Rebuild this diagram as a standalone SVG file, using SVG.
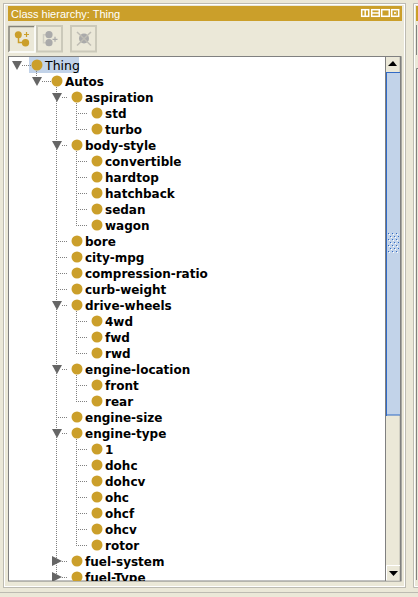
<svg xmlns="http://www.w3.org/2000/svg" width="418" height="597" viewBox="0 0 418 597">
<style>
.l{font:bold 12px "DejaVu Sans",sans-serif;fill:#000}
.i{fill:#cb9f2a}
.a{fill:#666}
.d{fill:none;stroke:#808080;stroke-width:1;stroke-dasharray:1 1}
.b{fill:none;stroke:#bdbbb2}
.w{fill:none;stroke:#fff}
.t{fill:none;stroke:#cbc9ba;stroke-width:2}
</style>
<defs>
<clipPath id="tree"><rect x="9" y="57" width="377" height="524"/></clipPath>
<pattern id="gb" width="4" height="6" patternUnits="userSpaceOnUse" x="388" y="232">
<rect x="0" y="1" width="1" height="1" fill="#316ac5"/><rect x="2" y="4" width="1" height="1" fill="#316ac5"/>
<rect x="1" y="2" width="1" height="1" fill="#fff"/><rect x="3" y="5" width="1" height="1" fill="#fff"/>
</pattern>
</defs>
<rect width="418" height="597" fill="#ebe8d8"/>
<rect class="b" x="3.500" y="3.500" width="402" height="584"/>
<rect class="w" x="4.500" y="4.500" width="400" height="582"/>
<path class="b" d="M418 3.500H413.500V587.500H418M0 592.500H418"/>
<path class="w" d="M418 4.500H414.500V586.500H418"/>
<rect x="8" y="6" width="394" height="15" fill="#cb9f2a"/>
<rect x="416" y="6" width="2" height="15" fill="#cb9f2a"/>
<text x="11" y="18" font-family="Liberation Sans,sans-serif" font-size="11" fill="#fff">Class hierarchy: Thing</text>
<g fill="none" stroke="#fff" stroke-width="1.500">
<rect x="361.700" y="9.700" width="7" height="6.600"/><path d="M365.200 9.700V16.300"/>
<rect x="371.700" y="9.700" width="7.600" height="6.600"/><path d="M371.700 13H379.300"/>
<rect x="381.700" y="9.700" width="7.600" height="6.600"/>
<rect x="391.700" y="9.700" width="7" height="6.600"/>
</g>
<rect x="384" y="12" width="3" height="2" fill="#cb9f2a"/>
<path d="M394 12L396.500 14M396.500 12L394 14" stroke="#fff"/>
<g id="toolbar">
<path d="M9 52V26.500H35" stroke="#85837a" stroke-width="1.500" fill="none"/>
<path d="M35 26V52H9" stroke="#fff" stroke-width="1.500" fill="none"/>
<rect x="37" y="26" width="25" height="25.500" class="t"/>
<rect x="71" y="26" width="25" height="25.500" class="t"/>
<path d="M18.500 35V42.500H25" stroke="#cb9f2a" stroke-width="1.500" fill="none"/>
<circle class="i" cx="18.300" cy="34.700" r="3.500"/><circle class="i" cx="25.500" cy="42.700" r="3.700"/>
<path d="M24 34.500H29M26.500 32V37" stroke="#cb9f2a" stroke-width="1.200"/>
<path d="M49 34.700H43.500V42.700H49" stroke="#cfcdc2" stroke-width="1.500" fill="none"/>
<circle cx="49" cy="34.700" r="3.600" fill="#aaa"/><circle cx="49" cy="42.700" r="3.600" fill="#aaa"/>
<path d="M52.500 39.300H57.500M55 36.800V41.800" stroke="#aaa" stroke-width="1.200"/>
<circle cx="84" cy="38.500" r="5" fill="#aaa"/>
<path d="M77 32L91 45.500M91 32L77 45.500" stroke="#bfbdb4" stroke-width="1.500"/>
</g>
<rect x="8.500" y="56.500" width="392.500" height="524.500" fill="#fff" stroke="#808080"/>
<g id="scrollbar">
<rect x="386" y="57" width="14.500" height="523.500" fill="#ebe8d8"/>
<path d="M385.500 57V581" stroke="#808080"/>
<path d="M400.500 57V581" stroke="#808080" stroke-width="1.500"/>
<path d="M393 61L397 66H388Z" fill="#000"/>
<rect x="386" y="72" width="14" height="343" fill="#c2d3e9"/>
<path d="M386 72.500H400M386.500 72V416M386 415H400" stroke="#316ac5"/>
<rect x="388" y="232" width="11" height="22" fill="url(#gb)"/>
<path d="M386.500 580V565.500H400" stroke="#fff" fill="none"/>
<path d="M389 571H398L393.500 576Z" fill="#000"/>
</g>
<rect x="29" y="57" width="50" height="16" fill="#c2d3e9"/>
<g clip-path="url(#tree)">
<g id="connectors" class="d">
<path d="M36.500 71V77M56.500 87V577"/>
<path d="M76.500 103V129M76.500 151V225M76.500 311V353M76.500 375V401M76.500 439V545"/>
<path transform="translate(0 .5)" d="M22 65H31M42 81H51M62 97H68M62 145H68M56 241H68M56 257H68M56 273H68M56 289H68M62 305H68M62 369H68M56 417H68M62 433H68M62 561H68M62 577H68M76 113H88M76 129H88M76 161H88M76 177H88M76 193H88M76 209H88M76 225H88M76 321H88M76 337H88M76 353H88M76 385H88M76 401H88M76 449H88M76 465H88M76 481H88M76 497H88M76 513H88M76 529H88M76 545H88"/>
</g>
<g id="arrows" class="a">
<path d="M12 61H22L17 70Z"/><path d="M32 77H42L37 86Z"/><path d="M52 93H62L57 102Z"/><path d="M52 141H62L57 150Z"/><path d="M52 301H62L57 310Z"/><path d="M52 365H62L57 374Z"/><path d="M52 429H62L57 438Z"/>
<path d="M52 556V566L62 561Z"/><path d="M52 572V582L62 577Z"/>
</g>
<g id="n-thing"><circle class="i" cx="37" cy="65" r="5.500"/><text x="45" y="70" font-family="DejaVu Sans,sans-serif" font-size="12.500" fill="#000">Thing</text></g>
<g id="n-autos"><circle class="i" cx="57" cy="81" r="5.500"/><text class="l" x="65" y="86">Autos</text></g>
<g id="n-aspiration"><circle class="i" cx="77" cy="97" r="5.500"/><text class="l" x="85" y="102">aspiration</text></g>
<g id="n-std"><circle class="i" cx="97" cy="113" r="5.500"/><text class="l" x="105" y="118">std</text></g>
<g id="n-turbo"><circle class="i" cx="97" cy="129" r="5.500"/><text class="l" x="105" y="134">turbo</text></g>
<g id="n-body-style"><circle class="i" cx="77" cy="145" r="5.500"/><text class="l" x="85" y="150">body-style</text></g>
<g id="n-convertible"><circle class="i" cx="97" cy="161" r="5.500"/><text class="l" x="105" y="166">convertible</text></g>
<g id="n-hardtop"><circle class="i" cx="97" cy="177" r="5.500"/><text class="l" x="105" y="182">hardtop</text></g>
<g id="n-hatchback"><circle class="i" cx="97" cy="193" r="5.500"/><text class="l" x="105" y="198">hatchback</text></g>
<g id="n-sedan"><circle class="i" cx="97" cy="209" r="5.500"/><text class="l" x="105" y="214">sedan</text></g>
<g id="n-wagon"><circle class="i" cx="97" cy="225" r="5.500"/><text class="l" x="105" y="230">wagon</text></g>
<g id="n-bore"><circle class="i" cx="77" cy="241" r="5.500"/><text class="l" x="85" y="246">bore</text></g>
<g id="n-city-mpg"><circle class="i" cx="77" cy="257" r="5.500"/><text class="l" x="85" y="262">city-mpg</text></g>
<g id="n-compression-ratio"><circle class="i" cx="77" cy="273" r="5.500"/><text class="l" x="85" y="278">compression-ratio</text></g>
<g id="n-curb-weight"><circle class="i" cx="77" cy="289" r="5.500"/><text class="l" x="85" y="294">curb-weight</text></g>
<g id="n-drive-wheels"><circle class="i" cx="77" cy="305" r="5.500"/><text class="l" x="85" y="310">drive-wheels</text></g>
<g id="n-4wd"><circle class="i" cx="97" cy="321" r="5.500"/><text class="l" x="105" y="326">4wd</text></g>
<g id="n-fwd"><circle class="i" cx="97" cy="337" r="5.500"/><text class="l" x="105" y="342">fwd</text></g>
<g id="n-rwd"><circle class="i" cx="97" cy="353" r="5.500"/><text class="l" x="105" y="358">rwd</text></g>
<g id="n-engine-location"><circle class="i" cx="77" cy="369" r="5.500"/><text class="l" x="85" y="374">engine-location</text></g>
<g id="n-front"><circle class="i" cx="97" cy="385" r="5.500"/><text class="l" x="105" y="390">front</text></g>
<g id="n-rear"><circle class="i" cx="97" cy="401" r="5.500"/><text class="l" x="105" y="406">rear</text></g>
<g id="n-engine-size"><circle class="i" cx="77" cy="417" r="5.500"/><text class="l" x="85" y="422">engine-size</text></g>
<g id="n-engine-type"><circle class="i" cx="77" cy="433" r="5.500"/><text class="l" x="85" y="438">engine-type</text></g>
<g id="n-1"><circle class="i" cx="97" cy="449" r="5.500"/><text class="l" x="105" y="454">1</text></g>
<g id="n-dohc"><circle class="i" cx="97" cy="465" r="5.500"/><text class="l" x="105" y="470">dohc</text></g>
<g id="n-dohcv"><circle class="i" cx="97" cy="481" r="5.500"/><text class="l" x="105" y="486">dohcv</text></g>
<g id="n-ohc"><circle class="i" cx="97" cy="497" r="5.500"/><text class="l" x="105" y="502">ohc</text></g>
<g id="n-ohcf"><circle class="i" cx="97" cy="513" r="5.500"/><text class="l" x="105" y="518">ohcf</text></g>
<g id="n-ohcv"><circle class="i" cx="97" cy="529" r="5.500"/><text class="l" x="105" y="534">ohcv</text></g>
<g id="n-rotor"><circle class="i" cx="97" cy="545" r="5.500"/><text class="l" x="105" y="550">rotor</text></g>
<g id="n-fuel-system"><circle class="i" cx="77" cy="561" r="5.500"/><text class="l" x="85" y="566">fuel-system</text></g>
<g id="n-fuel-Type"><circle class="i" cx="77" cy="577" r="5.500"/><text class="l" x="85" y="582">fuel-Type</text></g>
</g>
<path d="M416.500 25V55M418 68.500H416.500V580" stroke="#808080" fill="none"/>
</svg>
